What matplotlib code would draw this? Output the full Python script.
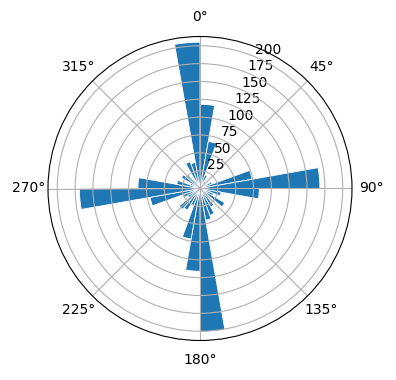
import numpy as np
import matplotlib
matplotlib.use("Agg")
import matplotlib.pyplot as plt

# bin start angles in degrees (10-degree bins) and bar heights
bin_starts_deg = list(range(0, 360, 10))
counts = [118, 67, 20, 12, 8, 10, 18, 74, 168,
          83, 30, 20, 40, 15, 30, 40, 45, 201,
          116, 72, 25, 35, 38, 20, 25, 71, 169,
          87, 33, 15, 30, 25, 12, 40, 37, 205]
bin_width_deg = 10
r_ticks = [25, 50, 75, 100, 125, 150, 175, 200]

W, H = 396, 380
fig = plt.figure(figsize=(W / 100, H / 100), dpi=100)
cx, cy, rad = 200, 188.5, 152
ax = fig.add_axes([(cx - rad) / W, (H - cy - rad) / H, 2 * rad / W, 2 * rad / H],
                  projection='polar')
ax.set_theta_zero_location('N')
ax.set_theta_direction(-1)

theta = np.deg2rad(bin_starts_deg)
ax.bar(theta, counts, width=np.deg2rad(bin_width_deg), align='edge',
       color='#1f77b4', edgecolor='white', linewidth=0.6)
ax.set_ylim(0, 213)
ax.set_rticks(r_ticks)
fig.savefig('out.png', dpi=100)
